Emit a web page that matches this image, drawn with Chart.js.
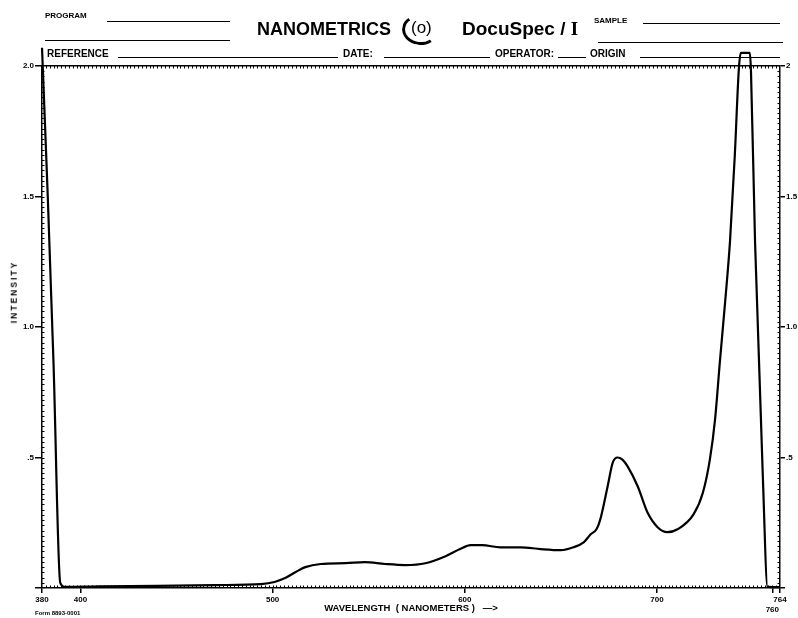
<!DOCTYPE html>
<html>
<head>
<meta charset="utf-8">
<script src="https://cdn.jsdelivr.net/npm/chart.js@4.4.1/dist/chart.umd.min.js"></script>
<style>
body { margin: 0; background: #fff; }
#wrap { position: relative; width: 798px; height: 618px; overflow: hidden; font-family: "Liberation Sans", Arial, sans-serif; font-weight: bold; color: #000; }
#wrap canvas { position: absolute; left: 0; top: 0; }
.t { position: absolute; white-space: nowrap; line-height: 1; }
.ln { position: absolute; height: 0; border-top: 1.5px solid #000; }
</style>
</head>
<body>
<div id="wrap">
  <canvas id="graph" width="798" height="618"></canvas>

  <!-- form header -->
  <div class="t" style="left:45px;top:12px;font-size:8px;">PROGRAM</div>
  <div class="ln" style="left:107px;top:21px;width:123px;"></div>
  <div class="ln" style="left:45px;top:40px;width:185px;"></div>
  <div class="t" style="left:257px;top:20px;font-size:18px;">NANOMETRICS</div>
  <div class="t" style="left:411px;top:19px;font-size:17px;font-weight:normal;">(o)</div>
  <div style="position:absolute;left:402px;top:15px;width:30px;height:24px;border-radius:50%;border:3px solid transparent;border-left-color:#000;border-bottom-color:#000;transform:rotate(8deg);"></div>
  <div class="t" style="left:462px;top:19px;font-size:19px;">DocuSpec / <span style="font-family:'Liberation Serif',serif;">I</span></div>
  <div class="t" style="left:594px;top:17px;font-size:8px;">SAMPLE</div>
  <div class="ln" style="left:643px;top:23px;width:137px;"></div>
  <div class="ln" style="left:598px;top:42px;width:185px;"></div>

  <div class="t" style="left:47px;top:49px;font-size:10px;">REFERENCE</div>
  <div class="ln" style="left:118px;top:57px;width:220px;"></div>
  <div class="t" style="left:343px;top:49px;font-size:10px;">DATE:</div>
  <div class="ln" style="left:384px;top:57px;width:106px;"></div>
  <div class="t" style="left:495px;top:49px;font-size:10px;">OPERATOR:</div>
  <div class="ln" style="left:558px;top:57px;width:28px;"></div>
  <div class="t" style="left:590px;top:49px;font-size:10px;">ORIGIN</div>
  <div class="ln" style="left:640px;top:57px;width:140px;"></div>

  <div class="t" style="left:14px;top:292px;font-size:8.5px;letter-spacing:2px;transform:translate(-50%,-50%) rotate(-90deg);">INTENSITY</div>
  <div class="t" style="left:35px;top:610px;font-size:6px;">Form 8893-0001</div>
</div>

<script>
// spectrum (wavelength nm, intensity)
const wavelengths = [380, 383, 386, 389.5, 392, 410, 440, 470, 494, 501, 506.5, 512, 517, 525, 538, 548, 558.5, 569, 579.5, 590, 597.5, 603, 609, 618.5, 629, 639.5, 650, 656.5, 662, 665.5, 668.5, 670.5, 674.3, 677, 679.5, 682, 684.7, 690, 695, 700.3, 705.5, 710.7, 719, 723.9, 727.5, 730.2, 732.8, 735.5, 738, 740.5, 742.6, 743.6, 748.3, 748.9, 751, 755.1, 757.5, 764];
const intensity = [2.07, 1.50, 0.86, 0.02, 0.004, 0.006, 0.008, 0.011, 0.015, 0.023, 0.038, 0.061, 0.080, 0.092, 0.095, 0.099, 0.092, 0.088, 0.095, 0.122, 0.149, 0.164, 0.164, 0.156, 0.156, 0.149, 0.145, 0.156, 0.176, 0.206, 0.225, 0.263, 0.389, 0.481, 0.50, 0.492, 0.466, 0.389, 0.29, 0.233, 0.214, 0.225, 0.282, 0.366, 0.492, 0.645, 0.874, 1.10, 1.33, 1.66, 1.99, 2.05, 2.05, 1.98, 1.33, 0.42, 0.004, 0.003];

const xTickValues = [380, 400, 500, 600, 700, 760, 764];
const xTickLabels = ['380', '400', '500', '600', '700', '760', '764'];
const yTickValues = [0, 0.5, 1, 1.5, 2];
const yLeftLabels = ['', '.5', '1.0', '1.5', '2.0'];
const yRightLabels = ['', '.5', '1.0', '1.5', '2'];

const tickFont = { family: 'Liberation Sans', weight: 'bold', size: 8 };

// little hatch marks along the frame, like the chart paper
const hatch = {
    id: 'hatch',
    beforeDatasetsDraw(chart) {
        const ctx = chart.ctx, a = chart.chartArea, sx = chart.scales.x, sy = chart.scales.y;
        ctx.save();
        ctx.strokeStyle = '#000';
        ctx.lineWidth = 1;
        ctx.beginPath();
        for (let nm = 382; nm < 764; nm += 2) {
            const px = Math.round(sx.getPixelForValue(nm)) + 0.5;
            ctx.moveTo(px, a.bottom); ctx.lineTo(px, a.bottom - 2.5);
            ctx.moveTo(px, a.top); ctx.lineTo(px, a.top + 2.5);
        }
        for (let i = 1; i < 100; i++) {
            const py = Math.round(sy.getPixelForValue(i * 0.02)) + 0.5;
            ctx.moveTo(a.left, py); ctx.lineTo(a.left + 2.5, py);
            ctx.moveTo(a.right, py); ctx.lineTo(a.right - 2.5, py);
        }
        ctx.stroke();
        ctx.restore();
    }
};

const points = wavelengths.map((w, i) => ({ x: w, y: intensity[i] }));

new Chart(document.getElementById('graph'), {
    type: 'line',
    data: {
        datasets: [{
            data: points,
            borderColor: '#000',
            borderWidth: 2.2,
            pointRadius: 0,
            fill: false,
            cubicInterpolationMode: 'monotone',
            clip: false
        }]
    },
    options: {
        responsive: false,
        animation: false,
        devicePixelRatio: 1,
        layout: { padding: { top: 66, left: 0, right: 0, bottom: 0 } },
        plugins: { legend: { display: false }, tooltip: { enabled: false } },
        scales: {
            x: {
                type: 'linear',
                position: 'bottom',
                min: 380,
                max: 764,
                afterBuildTicks: s => { s.ticks = xTickValues.map(v => ({ value: v })); },
                afterFit: s => { s.height = 30; },
                ticks: {
                    autoSkip: false,
                    maxRotation: 0,
                    padding: 2,
                    color: '#000',
                    font: tickFont,
                    callback: v => {
                        const lab = xTickLabels[xTickValues.indexOf(v)];
                        return v === 760 ? ['', lab] : lab; // 760 sits one line lower on the paper
                    }
                },
                grid: { drawOnChartArea: false, tickLength: 5, color: '#000', lineWidth: 1.5 },
                border: { color: '#000', width: 1.5 },
                title: {
                    display: true,
                    text: 'WAVELENGTH  ( NANOMETERS )   \u2014>',
                    color: '#000',
                    font: { family: 'Liberation Sans', weight: 'bold', size: 9.5 },
                    padding: { top: 0, bottom: 4 }
                }
            },
            y: {
                position: 'left',
                min: 0,
                max: 2,
                afterBuildTicks: s => { s.ticks = yTickValues.map(v => ({ value: v })); },
                afterFit: s => { s.width = 42; },
                ticks: {
                    padding: 1,
                    color: '#000',
                    font: tickFont,
                    callback: v => yLeftLabels[yTickValues.indexOf(v)]
                },
                grid: {
                    drawOnChartArea: true,
                    tickLength: 7,
                    tickColor: '#000',
                    lineWidth: 1.5,
                    color: c => (c.tick && c.tick.value === 2) ? '#000' : 'rgba(0,0,0,0)'
                },
                border: { color: '#000', width: 1.5 }
            },
            y2: {
                position: 'right',
                min: 0,
                max: 2,
                afterBuildTicks: s => { s.ticks = yTickValues.map(v => ({ value: v })); },
                afterFit: s => { s.width = 18; },
                ticks: {
                    padding: 1,
                    color: '#000',
                    font: tickFont,
                    callback: v => yRightLabels[yTickValues.indexOf(v)]
                },
                grid: { drawOnChartArea: false, tickLength: 5, color: '#000', lineWidth: 1.5 },
                border: { color: '#000', width: 1.5 }
            }
        }
    },
    plugins: [hatch]
});
</script>
</body>
</html>
